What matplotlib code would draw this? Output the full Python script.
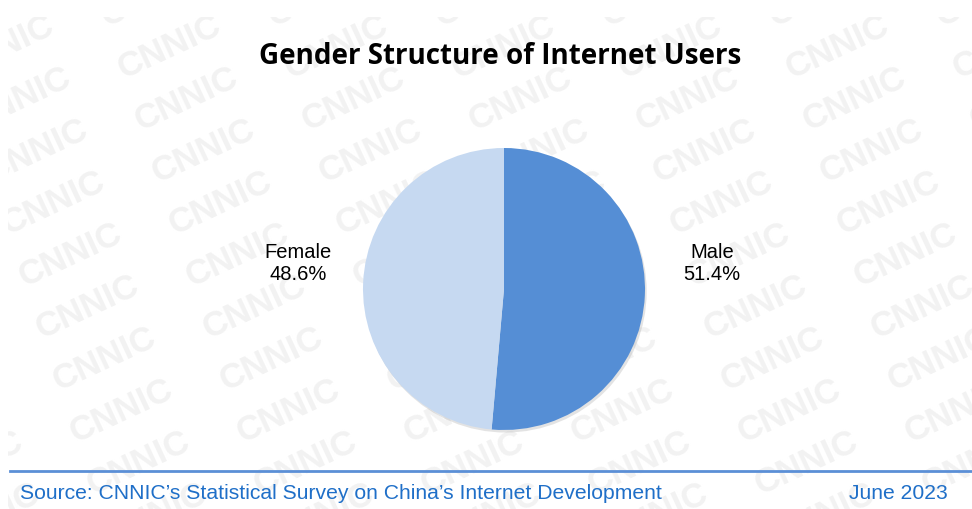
import matplotlib.pyplot as plt
from matplotlib.patches import Circle

# data
labels = ['Male', 'Female']
shares = [51.4, 48.6]
colors = ['#558ED5', '#C6D9F1']
title = 'Gender Structure of Internet Users'
source = 'Source: CNNIC\u2019s Statistical Survey on China\u2019s Internet Development'
date = 'June 2023'

plt.rcParams['font.family'] = ['Liberation Sans', 'DejaVu Sans']

fig = plt.figure(figsize=(9.72, 5.10), dpi=100)
fig.patch.set_facecolor('white')

# watermark layer (tiled logo text, clipped to the slide area)
wm = fig.add_axes([8 / 972, 0, 1 - 8 / 972, 1 - 18 / 510])
wm.set_xlim(8, 972)
wm.set_ylim(510, 18)
wm.axis('off')
for j in range(0, 11):
    for i in range(-1, 7):
        x = -14 + i * 167 + j * 17
        y = -5 + j * 52
        wm.text(x, y, 'CNNIC', rotation=25, fontsize=25, fontweight='bold',
                color='#f2f2f2', ha='center', va='center',
                clip_on=True, rotation_mode='anchor')

# pie
s = 1.03
ax = fig.add_axes([(504 - 141 * s) / 972, 1 - (290 + 141 * s) / 510,
                   282 * s / 972, 282 * s / 510])
ax.add_patch(Circle((0.012, -0.018), 1.0, color='#b0b0b0', alpha=0.35, zorder=0, lw=0))
wedges, _ = ax.pie(shares, colors=colors, startangle=90, counterclock=False,
                   radius=1.0, wedgeprops=dict(linewidth=0))
ax.set_xlim(-s, s)
ax.set_ylim(-s, s)
ax.set_aspect('equal')
ax.axis('off')

# labels
fig.text(712 / 972, 1 - 264 / 510, f'{labels[0]}\n{shares[0]}%', ha='center', va='center',
         fontsize=14.5, linespacing=1.2)
fig.text(298 / 972, 1 - 264 / 510, f'{labels[1]}\n{shares[1]}%', ha='center', va='center',
         fontsize=14.5, linespacing=1.2)

# title
fig.text(500 / 972, 1 - 57 / 510, title, ha='center', va='center', fontsize=20,
         fontweight='bold', family='Open Sans')

# footer
fig.add_artist(plt.Line2D([10 / 972, 1], [1 - 472 / 510] * 2, color='#5B8FD6', lw=2))
fig.text(20 / 972, 1 - 494 / 510, source, ha='left', va='center', fontsize=15.2, color='#1F6FC8')
fig.text(948 / 972, 1 - 494 / 510, date, ha='right', va='center', fontsize=15.2, color='#1F6FC8')

plt.savefig('out.png', dpi=100, facecolor='white')
